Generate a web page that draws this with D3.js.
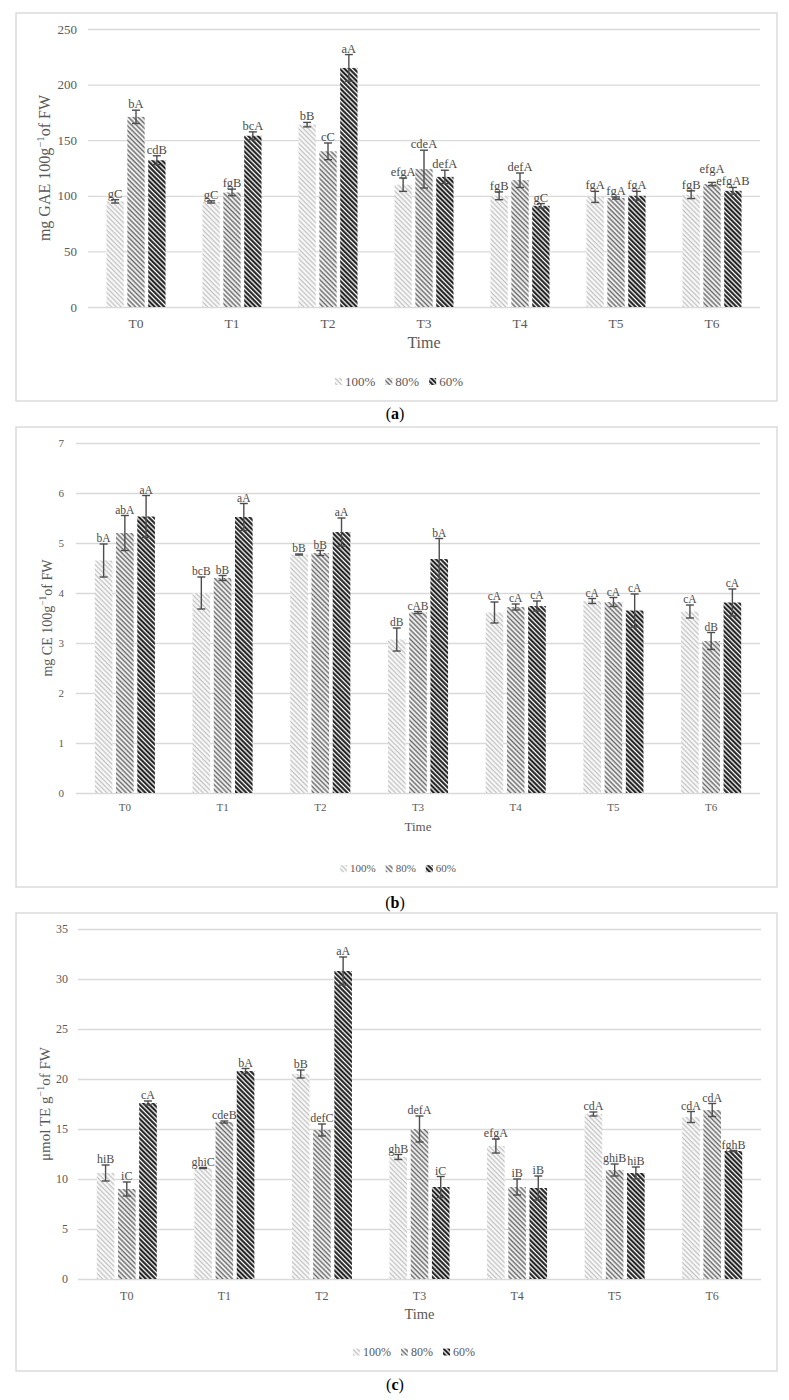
<!DOCTYPE html>
<html>
<head>
<meta charset="utf-8">
<script src="https://cdn.jsdelivr.net/npm/d3@7"></script>
<style>
  body { margin: 0; background: #fff; }
  svg { display: block; }
</style>
</head>
<body>
<div id="chart"></div>
<script>
// categorias e tratamentos
const times = ["T0", "T1", "T2", "T3", "T4", "T5", "T6"];
const levels = ["100%", "80%", "60%"];

// (a) fenóis totais, mg GAE 100g-1
const gae100 = [95, 94.5, 164, 110, 100, 99, 101];
const gae80 = [171, 103, 140, 124, 114, 98, 110.5];
const gae60 = [132, 154, 215, 117, 91, 100, 104.5];
const gaeSd100 = [1.5, 1, 2, 6, 3.5, 5, 3.5];
const gaeSd80 = [6, 3, 7.5, 17, 6.5, 1, 1.5];
const gaeSd60 = [4, 3.5, 12, 6, 2, 4, 3];
const gaeLab100 = ["gC", "gC", "bB", "efgA", "fgB", "fgA", "fgB"];
const gaeLab80 = ["bA", "fgB", "cC", "cdeA", "defA", "fgA", "efgA"];
const gaeLab60 = ["cdB", "bcA", "aA", "defA", "gC", "fgA", "efgAB"];

// (b) flavonoides, mg CE 100g-1
const ce100 = [4.65, 4.0, 4.77, 3.07, 3.61, 3.84, 3.63];
const ce80 = [5.2, 4.3, 4.8, 3.61, 3.72, 3.82, 3.04];
const ce60 = [5.53, 5.52, 5.22, 4.68, 3.74, 3.65, 3.81];
const ceSd100 = [0.33, 0.32, 0.01, 0.23, 0.21, 0.05, 0.13];
const ceSd80 = [0.35, 0.05, 0.05, 0.02, 0.06, 0.09, 0.17];
const ceSd60 = [0.42, 0.27, 0.28, 0.41, 0.1, 0.33, 0.27];
const ceLab100 = ["bA", "bcB", "bB", "dB", "cA", "cA", "cA"];
const ceLab80 = ["abA", "bB", "bB", "cAB", "cA", "cA", "dB"];
const ceLab60 = ["aA", "aA", "aA", "bA", "cA", "cA", "cA"];

// (c) atividade antioxidante, umol TE g-1
const te100 = [10.6, 11.1, 20.5, 12.2, 13.3, 16.5, 16.2];
const te80 = [9.0, 15.7, 14.9, 15.0, 9.2, 10.9, 16.9];
const te60 = [17.6, 20.8, 30.8, 9.2, 9.1, 10.6, 12.8];
const teSd100 = [0.8, 0.05, 0.4, 0.25, 0.7, 0.2, 0.55];
const teSd80 = [0.7, 0.1, 0.6, 1.3, 0.8, 0.6, 0.65];
const teSd60 = [0.2, 0.25, 1.4, 1.05, 1.2, 0.6, 0.05];
const teLab100 = ["hiB", "ghiC", "bB", "ghB", "efgA", "cdA", "cdA"];
const teLab80 = ["iC", "cdeB", "defC", "defA", "iB", "ghiB", "cdA"];
const teLab60 = ["cA", "bA", "aA", "iC", "iB", "hiB", "fghB"];

const serif = "'Liberation Serif', 'DejaVu Serif', serif";
const grey = "#595959";
const lineGrey = "#d9d9d9";

const svg = d3.select("#chart").append("svg")
    .attr("width", 789)
    .attr("height", 1400);

// hachuras diagonais (uma por tratamento)
const patterns = [
    { id: "p100", color: "#c4c4c4", w: 1.5 },
    { id: "p80", color: "#6a6a6a", w: 1.6 },
    { id: "p60", color: "#111", w: 2 }
];
const defs = svg.append("defs");
patterns.forEach(p => {
    const pat = defs.append("pattern")
        .attr("id", p.id)
        .attr("patternUnits", "userSpaceOnUse")
        .attr("width", 3.4)
        .attr("height", 3.4)
        .attr("patternTransform", "rotate(-45)");
    pat.append("rect").attr("width", 3.4).attr("height", 3.4).attr("fill", "#fff");
    pat.append("line")
        .attr("x1", 1.2).attr("x2", 1.2)
        .attr("y1", 0).attr("y2", 3.4)
        .attr("stroke", p.color)
        .attr("stroke-width", p.w);
});

function drawPanel(p) {
    const g = svg.append("g").attr("font-family", serif);

    g.append("rect")
        .attr("x", p.box[0]).attr("y", p.box[1])
        .attr("width", p.box[2] - p.box[0])
        .attr("height", p.box[3] - p.box[1])
        .attr("fill", "none")
        .attr("stroke", lineGrey)
        .attr("stroke-width", 1.4);

    const y = d3.scaleLinear().domain([0, p.yMax]).range([p.bottom, p.top]);
    const x0 = d3.scaleBand().domain(times).range([p.left, p.right]);
    const groupW = x0.bandwidth() * 0.615;
    const x1 = d3.scaleBand().domain(levels).range([0, groupW]).paddingInner(0.17);

    // eixo y + grade
    const ticks = d3.range(0, p.yMax + p.step / 2, p.step);
    const ya = g.append("g")
        .attr("transform", `translate(${p.left},0)`)
        .call(d3.axisLeft(y).tickValues(ticks).tickFormat(d3.format("d"))
            .tickSize(-(p.right - p.left)).tickPadding(p.tickPad));
    ya.attr("font-family", serif).attr("font-size", p.fs.tick);
    ya.select(".domain").remove();
    ya.selectAll("line").attr("stroke", lineGrey).attr("stroke-width", 1.3);
    ya.selectAll("text").attr("fill", grey);

    // eixo x
    const xa = g.append("g")
        .attr("transform", `translate(0,${p.bottom})`)
        .call(d3.axisBottom(x0).tickSize(0).tickPadding(p.catPad));
    xa.attr("font-family", serif).attr("font-size", p.fs.cat);
    xa.select(".domain").remove();
    xa.selectAll("text").attr("fill", grey);

    const rows = levels.flatMap((lv, i) => times.map((t, j) => ({
        t, lv, i,
        v: p.means[i][j],
        sd: p.sds[i][j],
        lab: p.labs[i][j]
    })));
    const cx = d => x0(d.t) + (x0.bandwidth() - groupW) / 2 + x1(d.lv) + x1.bandwidth() / 2;

    g.append("g").selectAll("rect")
        .data(rows)
        .join("rect")
        .attr("x", d => cx(d) - x1.bandwidth() / 2)
        .attr("y", d => y(d.v))
        .attr("width", x1.bandwidth())
        .attr("height", d => y(0) - y(d.v))
        .attr("fill", d => `url(#${patterns[d.i].id})`);

    // barras de erro
    const eb = g.append("g").attr("stroke", "#4d4d4d").attr("stroke-width", 1.4);
    eb.selectAll(".v").data(rows).join("line")
        .attr("x1", cx).attr("x2", cx)
        .attr("y1", d => y(d.v + d.sd)).attr("y2", d => y(d.v - d.sd));
    eb.selectAll(".top").data(rows).join("line")
        .attr("x1", d => cx(d) - 4).attr("x2", d => cx(d) + 4)
        .attr("y1", d => y(d.v + d.sd)).attr("y2", d => y(d.v + d.sd));
    eb.selectAll(".bot").data(rows).join("line")
        .attr("x1", d => cx(d) - 4).attr("x2", d => cx(d) + 4)
        .attr("y1", d => y(d.v - d.sd)).attr("y2", d => y(d.v - d.sd));

    // letras
    const labs = g.append("g").selectAll("text")
        .data(rows)
        .join("text")
        .attr("x", cx)
        .attr("y", d => y(d.v + d.sd) - p.labGap)
        .attr("text-anchor", "middle")
        .attr("font-size", p.fs.lab)
        .attr("fill", "#4a4a4a")
        .text(d => d.lab);

    // se duas letras vizinhas se sobrepõem, sobe a que já está mais alta
    times.forEach(t => {
        const nodes = labs.filter(d => d.t === t).nodes();
        for (let k = 1; k < nodes.length; k++) {
            const a = nodes[k - 1].getBBox(), b = nodes[k].getBBox();
            const overlapX = a.x + a.width > b.x + 1;
            const overlapY = a.y < b.y + b.height - 3 && b.y < a.y + a.height - 3;
            if (overlapX && overlapY) {
                const hi = a.y < b.y ? nodes[k - 1] : nodes[k];
                const lo = hi === nodes[k] ? a : b;
                const hb = hi.getBBox();
                const shift = hb.y + hb.height - lo.y - 2;
                d3.select(hi).attr("y", +d3.select(hi).attr("y") - shift);
            }
        }
    });

    // titulo do eixo y
    const yt = g.append("text")
        .attr("transform", `translate(${p.titleX},${(p.top + p.bottom) / 2}) rotate(-90)`)
        .attr("text-anchor", "middle")
        .attr("font-size", p.fs.title)
        .attr("fill", grey);
    yt.append("tspan").text(p.title[0]);
    yt.append("tspan").attr("dy", -p.fs.title * 0.4).attr("font-size", p.fs.title * 0.68).text("−1");
    yt.append("tspan").attr("dy", p.fs.title * 0.4).text(p.title[1]);

    g.append("text")
        .attr("x", (p.left + p.right) / 2)
        .attr("y", p.timeY)
        .attr("text-anchor", "middle")
        .attr("font-size", p.fs.time)
        .attr("fill", grey)
        .text("Time");

    // legenda
    const lg = g.append("g").attr("font-size", p.fs.leg);
    let lx = 0;
    levels.forEach((lv, i) => {
        lg.append("rect")
            .attr("x", lx).attr("y", p.legY - p.fs.leg * 0.62)
            .attr("width", 7).attr("height", 7)
            .attr("fill", `url(#${patterns[i].id})`);
        const t = lg.append("text")
            .attr("x", lx + 10).attr("y", p.legY)
            .attr("fill", grey)
            .text(lv);
        lx += 10 + t.node().getComputedTextLength() + 10;
    });
    lg.attr("transform", `translate(${p.legX - (lx - 10) / 2},0)`);

    // legenda do painel
    const cap = g.append("text")
        .attr("x", 395).attr("y", p.capY)
        .attr("text-anchor", "middle")
        .attr("font-size", 16)
        .attr("fill", "#000");
    cap.append("tspan").text("(");
    cap.append("tspan").attr("font-weight", "bold").text(p.cap);
    cap.append("tspan").text(")");
}

drawPanel({
    box: [16, 13, 777, 401],
    left: 88, right: 760, top: 29, bottom: 307,
    yMax: 250, step: 50,
    means: [gae100, gae80, gae60],
    sds: [gaeSd100, gaeSd80, gaeSd60],
    labs: [gaeLab100, gaeLab80, gaeLab60],
    title: ["mg GAE 100g", "of FW"],
    fs: { tick: 13, cat: 13.5, lab: 12.5, title: 16, time: 16, leg: 13 },
    tickPad: 11, catPad: 11, labGap: 2,
    titleX: 50, timeY: 348, legX: 399, legY: 386,
    cap: "a", capY: 419
});

drawPanel({
    box: [16, 427, 777, 887],
    left: 76, right: 760, top: 443, bottom: 793,
    yMax: 7, step: 1,
    means: [ce100, ce80, ce60],
    sds: [ceSd100, ceSd80, ceSd60],
    labs: [ceLab100, ceLab80, ceLab60],
    title: ["mg CE 100g", "of FW"],
    fs: { tick: 11, cat: 11, lab: 11.5, title: 14, time: 13, leg: 11 },
    tickPad: 12, catPad: 10, labGap: 2,
    titleX: 52, timeY: 831, legX: 398, legY: 872,
    cap: "b", capY: 908
});

drawPanel({
    box: [16, 913, 777, 1371],
    left: 78, right: 761, top: 929, bottom: 1279,
    yMax: 35, step: 5,
    means: [te100, te80, te60],
    sds: [teSd100, teSd80, teSd60],
    labs: [teLab100, teLab80, teLab60],
    title: ["μmol TE g", "of FW"],
    fs: { tick: 12, cat: 12, lab: 12, title: 15, time: 14.5, leg: 12 },
    tickPad: 10, catPad: 12, labGap: 2,
    titleX: 50, timeY: 1319, legX: 414, legY: 1356,
    cap: "c", capY: 1390
});
</script>
</body>
</html>
